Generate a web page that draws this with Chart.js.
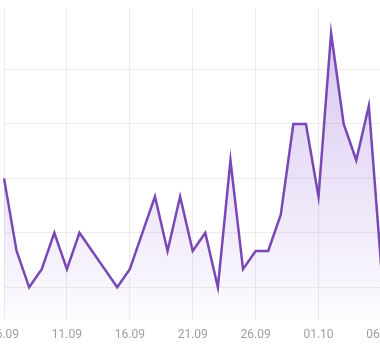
<!DOCTYPE html>
<html>
<head>
<meta charset="utf-8">
<script src="https://cdn.jsdelivr.net/npm/chart.js@4/dist/chart.umd.min.js"></script>
<style>
html,body{margin:0;padding:0;background:#fff;overflow:hidden;width:380px;height:350px;}
#wrap{position:absolute;left:-26px;top:0;width:450px;height:350px;}
</style>
</head>
<body>
<div id="wrap"><canvas id="c"></canvas></div>
<script>
const categories = ["06.09","07.09","08.09","09.09","10.09","11.09","12.09","13.09","14.09","15.09","16.09","17.09","18.09","19.09","20.09","21.09","22.09","23.09","24.09","25.09","26.09","27.09","28.09","29.09","30.09","01.10","02.10","03.10","04.10","05.10","06.10","07.10"];
const values = [9,5,3,4,6,4,6,5,4,3,4,6,8,5,8,5,6,3,10,4,5,5,7,12,12,8,17,12,10,13,4,3];
const yMin = 1.22, yMax = 18.39, yStep = 3;
const labelEvery = 5;

const ctx = document.getElementById('c');
new Chart(ctx, {
  type: 'line',
  data: {
    labels: categories,
    datasets: [{
      data: values,
      borderColor: '#7a48b5',
      borderWidth: 2.5,
      pointRadius: 0,
      tension: 0,
      fill: 'start',
      backgroundColor: (c) => {
        const ca = c.chart.chartArea;
        if (!ca) return 'rgba(140,90,210,0.15)';
        const g = c.chart.ctx.createLinearGradient(0, ca.top, 0, ca.bottom);
        g.addColorStop(0, 'rgba(140,90,210,0.36)');
        g.addColorStop(1, 'rgba(140,90,210,0.02)');
        return g;
      }
    }]
  },
  options: {
    responsive: true,
    maintainAspectRatio: false,
    animation: false,
    devicePixelRatio: 1,
    layout: { padding: { left: 30, right: 30, top: 8, bottom: 0 } },
    plugins: { legend: { display: false }, tooltip: { enabled: false } },
    scales: {
      x: {
        offset: false,
        border: { display: false },
        grid: {
          drawTicks: false,
          color: (c) => (c.index % labelEvery === 0 ? '#ececec' : 'rgba(0,0,0,0)'),
          lineWidth: 1
        },
        ticks: {
          autoSkip: false,
          maxRotation: 0,
          padding: 8,
          color: '#9e9e9e',
          font: { family: 'Roboto', size: 12 },
          callback: function(v, i) { return i % labelEvery === 0 ? categories[i] : ''; }
        }
      },
      y: {
        min: yMin,
        max: yMax,
        border: { display: false },
        grid: { drawTicks: false, color: '#ececec' },
        ticks: { display: false, stepSize: yStep },
        afterBuildTicks: (s) => {
          s.ticks = s.ticks.filter(t => Math.abs(t.value / yStep - Math.round(t.value / yStep)) < 1e-6);
        }
      }
    }
  }
});
</script>
</body>
</html>
